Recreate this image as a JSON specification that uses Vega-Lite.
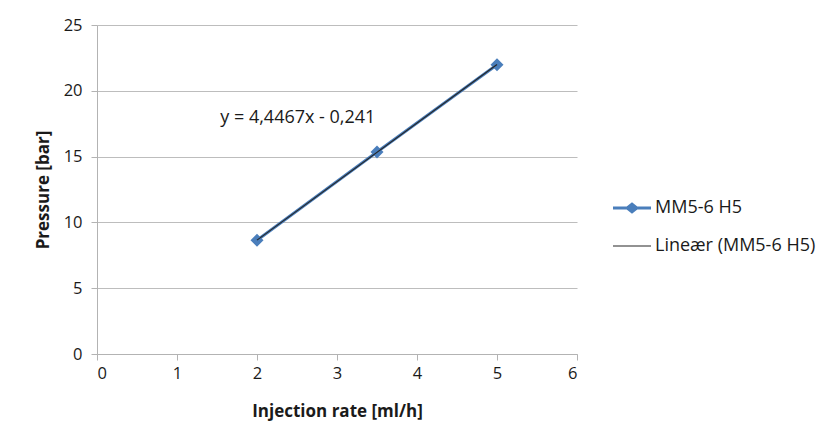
{
  "$schema": "https://vega.github.io/schema/vega-lite/v6.json",
  "width": 480,
  "height": 329,
  "autosize": {"type": "none"},
  "padding": {"left": 97, "top": 25, "right": 263, "bottom": 94},
  "background": "white",
  "config": {
    "font": "Open Sans",
    "view": {"stroke": null},
    "axis": {
      "labelFont": "Open Sans",
      "labelFontSize": 16.5,
      "labelColor": "#1a1a1a",
      "titleFont": "Open Sans",
      "titleFontSize": 17,
      "titleFontWeight": "bold",
      "titleColor": "#1a1a1a",
      "domainColor": "#B3B3B3",
      "tickColor": "#B3B3B3",
      "gridColor": "#BDBDBD",
      "tickSize": 6
    },
    "legend": {
      "labelFont": "Open Sans",
      "labelFontSize": 18,
      "labelColor": "#1a1a1a",
      "labelLimit": 400
    }
  },
  "datasets": {
    "measured": [
      {"rate": 2, "pressure": 8.64, "series": "MM5-6 H5"},
      {"rate": 3.5, "pressure": 15.35, "series": "MM5-6 H5"},
      {"rate": 5, "pressure": 21.98, "series": "MM5-6 H5"}
    ],
    "trend": [
      {"rate": 2, "pressure": 8.6524, "series": "Lineær (MM5-6 H5)"},
      {"rate": 5, "pressure": 21.9925, "series": "Lineær (MM5-6 H5)"}
    ],
    "equation": [
      {"rate": 2.51, "pressure": 17.96, "label": "y = 4,4467x - 0,241"}
    ]
  },
  "layer": [
    {
      "data": {"name": "measured"},
      "mark": {"type": "line", "strokeWidth": 3, "point": {"shape": "diamond", "size": 170, "filled": true, "opacity": 1}},
      "encoding": {
        "x": {
          "field": "rate",
          "type": "quantitative",
          "scale": {"domain": [0, 6], "nice": false},
          "axis": {
            "title": "Injection rate [ml/h]",
            "values": [0, 1, 2, 3, 4, 5, 6],
            "format": "d",
            "grid": false,
            "labelPadding": 5,
            "titleBaseline": "middle",
            "titleY": 57
          }
        },
        "y": {
          "field": "pressure",
          "type": "quantitative",
          "scale": {"domain": [0, 25], "nice": false},
          "axis": {
            "title": "Pressure [bar]",
            "values": [0, 5, 10, 15, 20, 25],
            "format": "d",
            "labelPadding": 9,
            "titleAngle": -90,
            "titleBaseline": "middle",
            "titleX": -54,
            "titleY": 164.5
          }
        },
        "color": {
          "field": "series",
          "type": "nominal",
          "scale": {
            "domain": ["MM5-6 H5", "Lineær (MM5-6 H5)"],
            "range": ["#4A7EBB", "#262626"]
          },
          "legend": {
            "title": null,
            "orient": "none",
            "legendX": 516,
            "legendY": 164,
            "symbolSize": 1444,
            "rowPadding": 10,
            "labelOffset": 4,
            "encode": {
              "symbols": {
                "update": {
                  "shape": {"signal": "datum.value === 'MM5-6 H5' ? 'M-1,-0.08H-0.28L0,-0.3L0.28,-0.08H1V0.08H0.28L0,0.3L-0.28,0.08H-1Z' : 'M-1,-0.03H1V0.03H-1Z'"},
                  "fill": {"signal": "datum.value === 'MM5-6 H5' ? '#4A7EBB' : '#4d4d4d'"},
                  "stroke": {"value": "transparent"},
                  "strokeWidth": {"value": 0},
                  "opacity": {"value": 1}
                }
              }
            }
          }
        }
      }
    },
    {
      "data": {"name": "trend"},
      "mark": {"type": "line", "strokeWidth": 1.2},
      "encoding": {
        "x": {"field": "rate", "type": "quantitative"},
        "y": {"field": "pressure", "type": "quantitative"},
        "color": {"field": "series", "type": "nominal"}
      }
    },
    {
      "data": {"name": "equation"},
      "mark": {"type": "text", "fontSize": 18, "font": "Open Sans", "color": "#1a1a1a", "align": "center", "baseline": "middle"},
      "encoding": {
        "x": {"field": "rate", "type": "quantitative"},
        "y": {"field": "pressure", "type": "quantitative"},
        "text": {"field": "label"}
      }
    }
  ]
}
